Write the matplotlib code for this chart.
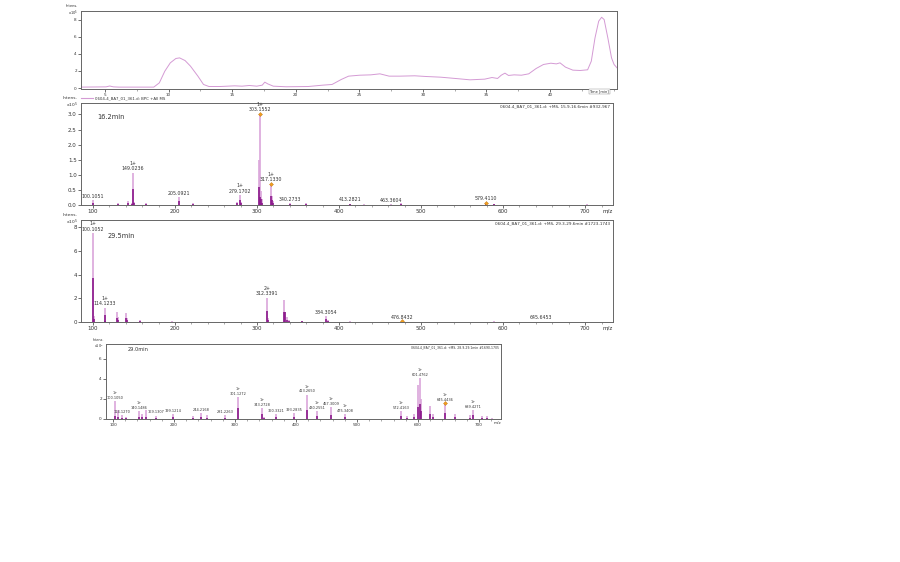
import matplotlib
matplotlib.use('Agg')
import matplotlib.pyplot as plt
from matplotlib.ticker import MultipleLocator, FormatStrFormatter

W, H = 900, 562

# chromatogram (BPC), minutes vs intensity x10^5
bpc_t = [3.12, 5.09, 5.38, 5.66, 6.10, 8.84, 9.28, 9.71, 10.14, 10.58, 10.87, 11.30, 11.73,
         12.31, 12.75, 13.18, 14.05, 15.20, 15.78, 16.36, 16.94, 17.37, 17.57, 17.80, 18.24,
         19.25, 20.98, 22.14, 22.86, 23.58, 24.16, 25.03, 25.90, 26.62, 27.05, 27.34, 28.21,
         29.36, 30.23, 31.39, 32.54, 33.70, 34.86, 35.43, 35.87, 36.16, 36.45, 36.73, 37.17,
         37.75, 38.32, 38.90, 39.48, 40.06, 40.49, 40.78, 41.21, 41.79, 42.37, 42.95, 43.24,
         43.53, 43.82, 44.05, 44.25, 44.54, 44.83, 45.03, 45.26]
bpc_i = [0.12, 0.15, 0.25, 0.15, 0.12, 0.12, 0.62, 1.98, 2.95, 3.46, 3.53, 3.22, 2.56,
         1.40, 0.43, 0.19, 0.19, 0.27, 0.23, 0.31, 0.23, 0.35, 0.70, 0.50, 0.23,
         0.16, 0.19, 0.35, 0.43, 1.01, 1.40, 1.51, 1.55, 1.67, 1.51, 1.40, 1.40,
         1.44, 1.36, 1.28, 1.13, 0.97, 1.05, 1.24, 1.13, 1.51, 1.75, 1.48, 1.55,
         1.51, 1.67, 2.29, 2.76, 2.91, 2.83, 2.95, 2.45, 2.10, 2.06, 2.14, 3.15,
         5.86, 7.81, 8.27, 8.00, 5.86, 3.53, 2.76, 2.37]
bpc_ticks = [5, 10, 15, 20, 25, 30, 35, 40]

# spectrum 16.2 min (x10^5)
s1_mz = [100.1, 130, 143, 147, 149.0, 150.5, 165, 205.1, 222, 275, 279.2, 281, 302, 303.2,
         304.5, 306, 317.1, 318.3, 319.5, 340.3, 360, 413.3, 430, 463.4, 475, 579.4, 589, 702]
s1_int = [0.15, 0.05, 0.12, 0.08, 1.07, 0.10, 0.07, 0.25, 0.05, 0.10, 0.33, 0.10, 1.50, 3.02,
          0.45, 0.20, 0.70, 0.30, 0.12, 0.05, 0.05, 0.04, 0.03, 0.03, 0.06, 0.08, 0.04, 0.02]
s1_dark = [0.08, 0.02, 0.08, 0.04, 0.52, 0.05, 0.03, 0.12, 0.02, 0.05, 0.15, 0.05, 0.60, 0.25,
           0.20, 0.08, 0.30, 0.15, 0.06, 0.02, 0.02, 0.02, 0.01, 0.01, 0.03, 0.04, 0.02, 0.01]
s1_lab_mz = [100.1, 149.0, 205.1, 279.2, 303.2, 317.1, 340.3, 413.3, 463.4, 579.4]
s1_lab = ['100.1051', '149.0236', '205.0921', '279.1702', '303.1552', '317.1330',
          '340.2733', '413.2821', '463.3604', '579.4110']
s1_chg = ['', '1+', '', '1+', '1+', '1+', '', '', '', '']
s1_mark = [303.2, 317.1, 579.4]

# spectrum 29.5 min (x10^5)
s2_mz = [100.1, 101.2, 114.1, 115.2, 129, 131, 140, 141.5, 157, 196, 312.3, 313.5, 333, 334.3,
         337, 339, 355, 384.3, 386, 413, 476.8, 589, 645.6, 700]
s2_int = [7.48, 0.50, 1.20, 0.20, 0.85, 0.40, 0.80, 0.30, 0.15, 0.08, 2.05, 0.30, 1.85, 0.85,
          0.45, 0.20, 0.10, 0.50, 0.15, 0.08, 0.05, 0.05, 0.04, 0.03]
s2_dark = [3.75, 0.25, 0.55, 0.10, 0.30, 0.20, 0.35, 0.15, 0.07, 0.04, 0.95, 0.15, 0.85, 0.85,
           0.20, 0.10, 0.05, 0.25, 0.07, 0.04, 0.02, 0.02, 0.02, 0.01]
s2_lab_mz = [100.1, 114.1, 312.3, 384.3, 476.8, 645.6]
s2_lab = ['100.1052', '114.1233', '312.3391', '384.3054', '476.8432', '645.6453']
s2_chg = ['1+', '1+', '2+', '', '', '']
s2_mark = [476.8]

# spectrum 29.0 min (x10^5)
s3_mz = [104, 108, 114, 122, 142.6, 147, 153.6, 170, 199, 231, 244, 253.5, 283.6, 305, 343.7,
         348, 366.6, 396.7, 418.6, 434, 457.4, 480, 571.6, 582, 594, 599.5, 603, 605, 620, 624,
         644, 660.6, 685, 689.6, 705, 713, 722]
s3_int = [1.80, 0.90, 0.40, 0.20, 0.80, 0.50, 0.90, 0.35, 0.50, 0.30, 0.60, 0.40, 0.40, 2.20,
          1.10, 0.20, 0.50, 0.60, 2.45, 0.80, 1.20, 0.50, 0.80, 0.30, 0.50, 3.40, 4.10, 2.00,
          1.30, 0.50, 1.60, 0.50, 0.40, 0.90, 0.30, 0.30, 0.10]
s3_dark = [0.30, 0.20, 0.15, 0.08, 0.20, 0.20, 0.25, 0.10, 0.20, 0.10, 0.25, 0.15, 0.15, 1.10,
           0.50, 0.08, 0.20, 0.25, 0.90, 0.35, 0.45, 0.20, 0.30, 0.10, 0.20, 1.20, 1.50, 0.80,
           0.50, 0.20, 0.60, 0.20, 0.15, 0.40, 0.10, 0.10, 0.04]
s3_lab_mz = [104, 114, 142.6, 170, 199, 244, 283.6, 305, 343.7, 366.6, 396.7, 418.6, 434,
             457.4, 480, 571.6, 603, 644, 689.6]
s3_lab = ['100.1050', '114.1270', '140.1486', '169.1307', '199.1214', '244.2168', '281.2263',
          '301.1272', '343.2728', '360.3321', '393.2835', '413.2650', '430.2551', '457.3009',
          '475.3408', '572.4163', '601.4762', '645.4436', '689.4271']
s3_chg = ['1+', '', '1+', '', '', '', '', '1+', '1+', '', '', '1+', '1+', '1+', '1+', '1+',
          '1+', '1+', '1+']
s3_mark = [644]

light = '#daa6da'
dark = '#8b1a8b'
line_c = '#d49ad4'
txt = '#333333'


def place(l, t, r, b):
    return [l / W, 1 - b / H, (r - l) / W, (b - t) / H]


def frame(ax, fs):
    for s in ax.spines.values():
        s.set_color('#666666')
        s.set_linewidth(0.7)
    ax.tick_params(labelsize=fs, colors=txt, length=2, width=0.5, pad=1)
    ax.tick_params(which='minor', length=1.2, width=0.4, colors='#666666')


def spectrum(ax, mz, inten, drk, lab_mz, labs, chg, marks, fs, title, title_pos, info, ymax,
             ystep, yfmt, xlim):
    ax.vlines(mz, 0, inten, color=light, lw=1.2)
    ax.vlines(mz, 0, drk, color=dark, lw=1.2)
    for m, lab, c in zip(lab_mz, labs, chg):
        h = inten[mz.index(m)]
        s = (c + '\n' + lab) if c else lab
        ax.annotate(s, (m, h), xytext=(0, 1), textcoords='offset points',
                    ha='center', va='bottom', fontsize=fs * 0.85, color=txt, linespacing=1.1)
    for m in marks:
        ax.plot(m, inten[mz.index(m)], marker='D', ms=2, color='#f0a020', mec='#c07010', mew=0.3)
    ax.set_xlim(*xlim)
    ax.set_ylim(0, ymax)
    ax.xaxis.set_major_locator(MultipleLocator(100))
    ax.xaxis.set_minor_locator(MultipleLocator(20))
    ax.yaxis.set_major_locator(MultipleLocator(ystep))
    ax.yaxis.set_major_formatter(FormatStrFormatter(yfmt))
    frame(ax, fs)
    ax.text(title_pos[0], title_pos[1], title, transform=ax.transAxes, fontsize=fs * 1.2,
            color=txt, va='center')
    ax.text(0.995, 0.985, info, transform=ax.transAxes, fontsize=fs * 0.75, color=txt,
            ha='right', va='top')
    ax.text(1.0, -0.03, 'm/z', transform=ax.transAxes, fontsize=fs, color=txt,
            ha='right', va='top')
    ax.text(-0.006, 1.0, 'Intens.\nx10$^5$', transform=ax.transAxes, fontsize=fs * 0.8,
            color=txt, ha='right', va='center', linespacing=1.0)


fig = plt.figure(figsize=(W / 100, H / 100), dpi=100)

# chromatogram
ax1 = fig.add_axes(place(81, 11, 617, 89))
ax1.plot(bpc_t, bpc_i, color=line_c, lw=0.7)
ax1.set_xlim(3.12, 45.26)
ax1.set_ylim(-0.1, 9.0)
ax1.set_xticks(bpc_ticks)
ax1.xaxis.set_minor_locator(MultipleLocator(2.5))
ax1.set_yticks([0, 2, 4, 6, 8])
frame(ax1, 3)
ax1.text(-0.006, 1.0, 'Intens.\nx10$^5$', transform=ax1.transAxes, fontsize=2.6, color=txt,
         ha='right', va='center', linespacing=1.0)
ax1.text(0.985, -0.01, 'Time [min]', transform=ax1.transAxes, fontsize=2.6, color=txt,
         ha='right', va='top', bbox=dict(fc='white', ec='#888888', lw=0.3, pad=0.4))
ax1.plot([0.0, 0.022], [-0.12, -0.12], transform=ax1.transAxes, color=line_c, lw=0.8,
         clip_on=False)
ax1.text(0.027, -0.12, '0604-4_BA7_01_361.d: BPC +All MS', transform=ax1.transAxes,
         fontsize=2.8, color=txt, ha='left', va='center')

ax2 = fig.add_axes(place(81, 103, 613, 205))
spectrum(ax2, s1_mz, s1_int, s1_dark, s1_lab_mz, s1_lab, s1_chg, s1_mark, 4, '16.2min',
         (0.03, 0.86), '0604-4_BA7_01_361.d: +MS, 15.9-16.6min #932-967', 3.38, 0.5, '%.1f',
         (85.4, 734))

ax3 = fig.add_axes(place(81, 220, 613, 322))
spectrum(ax3, s2_mz, s2_int, s2_dark, s2_lab_mz, s2_lab, s2_chg, s2_mark, 4, '29.5min',
         (0.05, 0.84), '0604-4_BA7_01_361.d: +MS, 29.3-29.6min #1723-1743', 8.6, 2, '%d',
         (85.4, 734))

ax4 = fig.add_axes(place(106, 344, 501, 419))
spectrum(ax4, s3_mz, s3_int, s3_dark, s3_lab_mz, s3_lab, s3_chg, s3_mark, 3, '29.0min',
         (0.056, 0.93), '0604-4_BA7_01_361.d: +MS, 28.9-29.1min #1690-1705', 7.5, 2, '%d',
         (88.5, 736))

fig.savefig('out.png', dpi=100)
